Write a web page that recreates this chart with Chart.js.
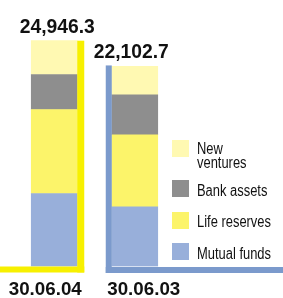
<!DOCTYPE html>
<html><head><meta charset="utf-8">
<script src="https://cdn.jsdelivr.net/npm/chart.js@4.4.0/dist/chart.umd.min.js"></script>
<style>html,body{margin:0;padding:0;background:#fff;}#wrap{width:283px;height:298px;}</style>
</head><body><div id="wrap"><canvas id="c" width="283" height="298"></canvas></div>
<script>
const categories = ['30.06.04', '30.06.03'];
const totals = ['24,946.3', '22,102.7'];
const mutualFunds = [8065, 6600];
const lifeReserves = [9280, 7954];
const bankAssets = [3867, 4419];
const newVentures = [3734.3, 3129.7];
const seriesNames = ['Mutual funds', 'Life reserves', 'Bank assets', 'New ventures'];
const colors = ['#98AFDA', '#FCF46A', '#8E8E8E', '#FFF9B2'];
const frameColors = ['#F7F000', '#7B9ACC'];

function drawScaled(ctx, text, x, y, sx) {
  ctx.save();
  ctx.translate(x, y);
  ctx.scale(sx, 1);
  ctx.fillText(text, 0, 0);
  ctx.restore();
}

const decor = {
  id: 'decor',
  afterDatasetsDraw(chart) {
    const ctx = chart.ctx;
    const base = chart.scales.y.getPixelForValue(0);
    const m0 = chart.getDatasetMeta(3).data[0];
    const m1 = chart.getDatasetMeta(3).data[1];
    const b0 = chart.getDatasetMeta(0).data[0];
    const b1 = chart.getDatasetMeta(0).data[1];
    const r0 = m0.x + m0.width / 2;
    const l1 = m1.x - m1.width / 2;
    ctx.save();
    ctx.fillStyle = frameColors[0];
    ctx.fillRect(r0, m0.y, 7, base - m0.y + 6);
    ctx.fillRect(0, base, r0 + 7, 6);
    ctx.fillStyle = frameColors[1];
    ctx.fillRect(l1 - 6, m1.y - 1, 6, base - m1.y + 7.5);
    ctx.fillRect(l1 - 6, base + 0.5, chart.width - (l1 - 6), 6);

    ctx.fillStyle = '#111';
    ctx.textAlign = 'center';
    ctx.textBaseline = 'alphabetic';
    ctx.font = 'bold 21px "Liberation Sans", Arial, sans-serif';
    let s = 75 / ctx.measureText(totals[0]).width;
    drawScaled(ctx, totals[0], m0.x + 3, m0.y - 8, s);
    drawScaled(ctx, totals[1], m1.x - 3.5, m1.y - 8, s);

    ctx.font = 'bold 18px "Liberation Sans", Arial, sans-serif';
    s = 73 / ctx.measureText(categories[0]).width;
    drawScaled(ctx, categories[0], b0.x - 9, 295, s);
    drawScaled(ctx, categories[1], b1.x + 9, 295, s);

    const lx = 172, tx = 197;
    const items = [
      {c: colors[3], y: 140, lines: ['New', 'ventures'], by: [154, 168]},
      {c: colors[2], y: 180, lines: ['Bank assets'], by: [196]},
      {c: colors[1], y: 212, lines: ['Life reserves'], by: [227]},
      {c: colors[0], y: 243, lines: ['Mutual funds'], by: [259]}
    ];
    ctx.textAlign = 'left';
    ctx.font = '16px "Liberation Sans", Arial, sans-serif';
    s = 74 / ctx.measureText('Mutual funds').width;
    items.forEach(it => {
      ctx.fillStyle = it.c;
      ctx.fillRect(lx, it.y, 17, 17);
      ctx.fillStyle = '#111';
      it.lines.forEach((t, i) => drawScaled(ctx, t, tx, it.by[i], s));
    });
    ctx.restore();
  }
};

new Chart(document.getElementById('c'), {
  type: 'bar',
  data: {
    labels: categories,
    datasets: [
      {label: seriesNames[0], data: mutualFunds, backgroundColor: colors[0]},
      {label: seriesNames[1], data: lifeReserves, backgroundColor: colors[1]},
      {label: seriesNames[2], data: bankAssets, backgroundColor: colors[2]},
      {label: seriesNames[3], data: newVentures, backgroundColor: colors[3]}
    ]
  },
  options: {
    responsive: false,
    animation: false,
    devicePixelRatio: 1,
    layout: {padding: {left: 14, right: 108, top: 4, bottom: 31.5}},
    datasets: {bar: {barThickness: 46, borderWidth: 0}},
    scales: {
      x: {stacked: true, display: false},
      y: {stacked: true, display: false, min: 0, max: 29000}
    },
    plugins: {legend: {display: false}, tooltip: {enabled: false}}
  },
  plugins: [decor]
});
</script></body></html>
